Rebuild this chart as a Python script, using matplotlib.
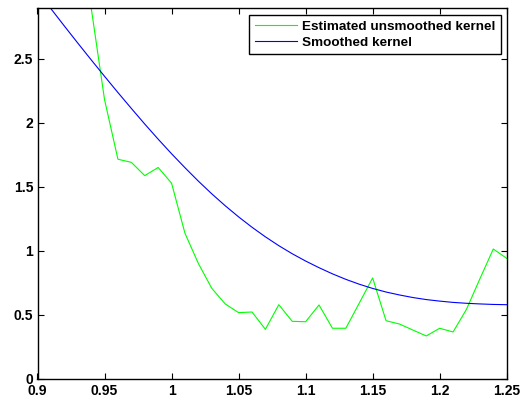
import matplotlib
matplotlib.use("Agg")
import matplotlib.pyplot as plt

# Estimated unsmoothed kernel (green)
green_x = [0.93, 0.94, 0.95, 0.96, 0.97, 0.98, 0.99, 1.00, 1.01, 1.02, 1.03, 1.04,
           1.05, 1.06, 1.07, 1.08, 1.09, 1.10, 1.11, 1.12, 1.13, 1.14, 1.15, 1.16,
           1.17, 1.18, 1.19, 1.20, 1.21, 1.22, 1.23, 1.24, 1.25]
green_y = [4.5, 2.90, 2.18, 1.714, 1.69, 1.586, 1.65, 1.527, 1.136, 0.90, 0.706, 0.584,
           0.516, 0.521, 0.386, 0.578, 0.448, 0.445, 0.576, 0.394, 0.394, 0.59, 0.787, 0.453,
           0.427, 0.38, 0.334, 0.394, 0.365, 0.542, 0.78, 1.013, 0.94]

# Smoothed kernel (blue)
blue_x = [0.90, 0.91, 0.92, 0.93, 0.94, 0.95, 0.96, 0.97, 0.98, 0.99, 1.00, 1.01,
          1.02, 1.03, 1.04, 1.05, 1.06, 1.07, 1.08, 1.09, 1.10, 1.11, 1.12, 1.13,
          1.14, 1.15, 1.16, 1.17, 1.18, 1.19, 1.20, 1.21, 1.22, 1.23, 1.24, 1.25]
blue_y = [3.027, 2.890, 2.755, 2.622, 2.491, 2.362, 2.235, 2.111, 1.989, 1.871, 1.757, 1.648,
          1.543, 1.444, 1.351, 1.264, 1.183, 1.108, 1.039, 0.976, 0.919, 0.867, 0.819, 0.776,
          0.738, 0.705, 0.677, 0.654, 0.634, 0.618, 0.606, 0.596, 0.589, 0.584, 0.580, 0.578]

series_labels = ["Estimated unsmoothed kernel", "Smoothed kernel"]
x_ticks = [0.9, 0.95, 1.0, 1.05, 1.1, 1.15, 1.2, 1.25]
x_ticklabels = ["0.9", "0.95", "1", "1.05", "1.1", "1.15", "1.2", "1.25"]
y_ticks = [0, 0.5, 1, 1.5, 2, 2.5]
y_ticklabels = ["0", "0.5", "1", "1.5", "2", "2.5"]

plt.rcParams['font.family'] = ['Liberation Sans', 'DejaVu Sans']

W, H = 528, 403
fig = plt.figure(figsize=(W / 100, H / 100), dpi=100)
ax = fig.add_axes([37.5 / W, 1 - 378.7 / H, (506.7 - 37.5) / W, (378.7 - 8.3) / H])

ax.plot(green_x, green_y, color=(0, 1, 0), lw=0.8, label=series_labels[0])
ax.plot(blue_x, blue_y, color=(0, 0, 1), lw=0.8, label=series_labels[1])

ax.set_xlim(0.9, 1.25)
ax.set_ylim(0, 2.893)
ax.set_xticks(x_ticks)
ax.set_xticklabels(x_ticklabels)
ax.set_yticks(y_ticks)
ax.set_yticklabels(y_ticklabels)
ax.tick_params(direction='in', top=True, right=True, length=4, width=0.8,
               labelsize=10)
ax.tick_params(axis='x', pad=3.5)
ax.tick_params(axis='y', pad=3)
for lab in ax.get_xticklabels() + ax.get_yticklabels():
    lab.set_fontweight('bold')
for s in ax.spines.values():
    s.set_linewidth(1.0)

leg = ax.legend(loc='upper right', bbox_to_anchor=(501 / W, 1 - 15 / H),
                bbox_transform=fig.transFigure, borderaxespad=0,
                fancybox=False, framealpha=1, edgecolor='black',
                prop={'size': 9.7, 'weight': 'bold'}, handlelength=3.15,
                handletextpad=0.37, borderpad=0.4, labelspacing=0.25)
leg.get_frame().set_linewidth(1.0)

fig.savefig("out.png", dpi=100)
